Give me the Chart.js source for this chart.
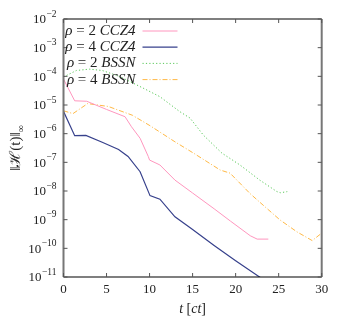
<!DOCTYPE html>
<html>
<head>
<meta charset="utf-8">
<script src="https://cdn.jsdelivr.net/npm/chart.js@4"></script>
<style>
  html, body { margin: 0; padding: 0; background: #fff; }
  #wrap { width: 339px; height: 327px; }
</style>
</head>
<body>
<div id="wrap"><canvas id="normChart" width="339" height="327"></canvas></div>
<script>
// t in [ct]
var tCcz4Rho2 = [0, 1.3, 2.7, 5, 7.15, 7.9, 8.9, 9.85, 10.0, 11.2, 12.95, 15, 17.5, 19.4, 21.7, 22.5, 23.8];
var hCcz4Rho2 = [8e-5, 1.4e-5, 1.35e-5, 7e-6, 3.9e-6, 1.74e-6, 6.9e-7, 1.6e-7, 1.2e-7, 8.1e-8, 2.4e-8, 8.5e-9, 2.4e-9, 8.9e-10, 2.75e-10, 2.1e-10, 2.1e-10];

var tCcz4Rho4 = [0, 1.3, 2.6, 4.5, 6.4, 7.5, 8.9, 10.05, 11.2, 12.95, 15, 17.5, 20, 23.0];
var hCcz4Rho4 = [6e-6, 8.5e-7, 8.7e-7, 5e-7, 2.8e-7, 1.6e-7, 4.7e-8, 6.9e-9, 5.2e-9, 1.26e-9, 4.5e-10, 1.26e-10, 3.7e-11, 9e-12];

var tBssnRho2 = [0, 1.5, 3, 4.5, 6.5, 9.24, 11.2, 13.5, 14.7, 16.25, 18.4, 20.5, 22.8, 24.8, 25.2, 26];
var hBssnRho2 = [9.5e-5, 1.6e-4, 1.78e-4, 1.6e-4, 1e-4, 3.9e-5, 1.95e-5, 5.9e-6, 3.5e-6, 8.9e-7, 2.1e-7, 8.1e-8, 2.4e-8, 9.5e-9, 8.7e-9, 9.5e-9];

var tBssnRho4 = [0, 1.1, 2.8, 5.2, 8, 10.05, 12.95, 15.1, 18.2, 19.35, 21.7, 23.2, 25.15, 27.1, 28.9, 30];
var hBssnRho4 = [6.3e-6, 5e-6, 1.12e-5, 8.9e-6, 4.4e-6, 1.9e-6, 5.2e-7, 2.1e-7, 5.4e-8, 4.2e-8, 8e-9, 3.2e-9, 9.8e-10, 3.8e-10, 1.86e-10, 3.4e-10];

var seriesLabels = ['ρ = 2 CCZ4', 'ρ = 4 CCZ4', 'ρ = 2 BSSN', 'ρ = 4 BSSN'];
var xTicks = [0, 5, 10, 15, 20, 25, 30];
var yTickExps = [-11, -10, -9, -8, -7, -6, -5, -4, -3, -2];

function pts(ts, hs) {
    return ts.map(function(t, i) { return { x: t, y: hs[i] }; });
}

var serif = "'Liberation Serif', 'DejaVu Serif', serif";

// draws a run of [text, style] pieces, right edge at x
function drawRunRight(ctx, parts, x, y, size) {
    var w = 0;
    parts.forEach(function(p) { ctx.font = p[1] + ' ' + size + 'px ' + serif; w += ctx.measureText(p[0]).width; });
    var cx = x - w;
    ctx.textAlign = 'left';
    parts.forEach(function(p) {
        ctx.font = p[1] + ' ' + size + 'px ' + serif;
        ctx.fillText(p[0], cx, y);
        cx += ctx.measureText(p[0]).width;
    });
    return w;
}

// gnuplot-ish frame, inward ticks, labels with exponents, legend on the left
var framePlugin = {
    id: 'frame',
    afterDraw: function(chart) {
        var ctx = chart.ctx;
        var a = chart.chartArea;
        var xs = chart.scales.x, ys = chart.scales.y;
        ctx.save();

        // frame
        ctx.setLineDash([]);
        ctx.strokeStyle = '#000';
        ctx.lineWidth = 1.2;
        ctx.beginPath();
        ctx.moveTo(a.left, a.top); ctx.lineTo(a.right, a.top);
        ctx.moveTo(a.left, a.bottom); ctx.lineTo(a.right, a.bottom);
        ctx.stroke();
        ctx.strokeStyle = '#777';
        ctx.lineWidth = 2;
        ctx.beginPath();
        ctx.moveTo(a.left, a.top); ctx.lineTo(a.left, a.bottom);
        ctx.moveTo(a.right, a.top); ctx.lineTo(a.right, a.bottom);
        ctx.stroke();

        // ticks
        ctx.strokeStyle = '#555';
        ctx.lineWidth = 1;
        ctx.beginPath();
        xTicks.forEach(function(v) {
            var px = xs.getPixelForValue(v);
            ctx.moveTo(px, a.bottom); ctx.lineTo(px, a.bottom - 4);
            ctx.moveTo(px, a.top); ctx.lineTo(px, a.top + 4);
        });
        yTickExps.forEach(function(e) {
            var py = ys.getPixelForValue(Math.pow(10, e));
            ctx.moveTo(a.left, py); ctx.lineTo(a.left + 4, py);
            ctx.moveTo(a.right, py); ctx.lineTo(a.right - 4, py);
        });
        ctx.stroke();

        // x tick labels
        ctx.fillStyle = '#222';
        ctx.font = '13px ' + serif;
        ctx.textAlign = 'center';
        ctx.textBaseline = 'middle';
        xTicks.forEach(function(v) {
            ctx.fillText(String(v), xs.getPixelForValue(v), a.bottom + 13);
        });

        // y tick labels 10^e
        yTickExps.forEach(function(e) {
            var py = ys.getPixelForValue(Math.pow(10, e));
            var ex = '\u2212' + String(-e);
            ctx.font = '9.5px ' + serif;
            var ew = ctx.measureText(ex).width;
            ctx.textAlign = 'left';
            var right = a.left - 7;
            ctx.fillText(ex, right - ew, py - 5);
            ctx.font = '13px ' + serif;
            ctx.textAlign = 'right';
            ctx.fillText('10', right - ew - 0.5, py + 1);
        });

        // x title, centred
        var parts = [['t', 'italic'], [' [', ''], ['ct', 'italic'], [']', '']];
        var tw = 0;
        parts.forEach(function(p) { ctx.font = p[1] + ' 14px ' + serif; tw += ctx.measureText(p[0]).width; });
        drawRunRight(ctx, parts, (a.left + a.right) / 2 + tw / 2, a.bottom + 32, 14);

        // y title, rotated
        ctx.save();
        ctx.translate(16, (a.top + a.bottom) / 2);
        ctx.rotate(-Math.PI / 2);
        ctx.textAlign = 'left';
        ctx.font = '15px ' + serif;
        var main = '\u2016\u210B(t)\u2016';
        var mw = ctx.measureText(main).width;
        ctx.font = '10px ' + serif;
        var sw = ctx.measureText('\u221E').width;
        var sx = -(mw + sw) / 2;
        ctx.font = '15px ' + serif;
        ctx.fillText(main, sx, 0);
        ctx.font = '10px ' + serif;
        ctx.fillText('\u221E', sx + mw, 5);
        ctx.restore();

        // legend: text then line sample
        chart.data.datasets.forEach(function(ds, i) {
            var ly = a.top + 12 + i * 16.2;
            var bits = ds.label.split(' ');   // ρ, =, n, scheme
            ctx.fillStyle = '#222';
            drawRunRight(ctx, [[bits[0], 'italic'], [' ' + bits[1] + ' ' + bits[2] + ' ', ''], [bits[3], 'italic']],
                a.left + 72, ly, 15);
            ctx.strokeStyle = ds.borderColor;
            ctx.lineWidth = ds.borderWidth;
            ctx.setLineDash(ds.borderDash || []);
            ctx.beginPath();
            ctx.moveTo(a.left + 79, ly);
            ctx.lineTo(a.left + 114, ly);
            ctx.stroke();
        });

        ctx.restore();
    }
};

var ctx = document.getElementById('normChart').getContext('2d');
var chart = new Chart(ctx, {
    type: 'line',
    data: {
        datasets: [{
            label: seriesLabels[0],
            data: pts(tCcz4Rho2, hCcz4Rho2),
            borderColor: 'rgb(255, 150, 190)',
            borderWidth: 1
        }, {
            label: seriesLabels[1],
            data: pts(tCcz4Rho4, hCcz4Rho4),
            borderColor: 'rgb(55, 65, 140)',
            borderWidth: 1.2
        }, {
            label: seriesLabels[2],
            data: pts(tBssnRho2, hBssnRho2),
            borderColor: 'rgb(90, 200, 90)',
            borderWidth: 1,
            borderDash: [1.2, 2.2]
        }, {
            label: seriesLabels[3],
            data: pts(tBssnRho4, hBssnRho4),
            borderColor: 'rgb(255, 185, 70)',
            borderWidth: 1,
            borderDash: [5, 2, 1, 2]
        }]
    },
    options: {
        responsive: false,
        animation: false,
        layout: { padding: { left: 63.5, right: 17.3, top: 19, bottom: 50 } },
        elements: { point: { radius: 0 }, line: { tension: 0 } },
        plugins: { legend: { display: false }, tooltip: { enabled: false } },
        scales: {
            x: { type: 'linear', min: 0, max: 30, display: false },
            y: { type: 'logarithmic', min: 1e-11, max: 1e-2, display: false }
        }
    },
    plugins: [framePlugin]
});
</script>
</body>
</html>
